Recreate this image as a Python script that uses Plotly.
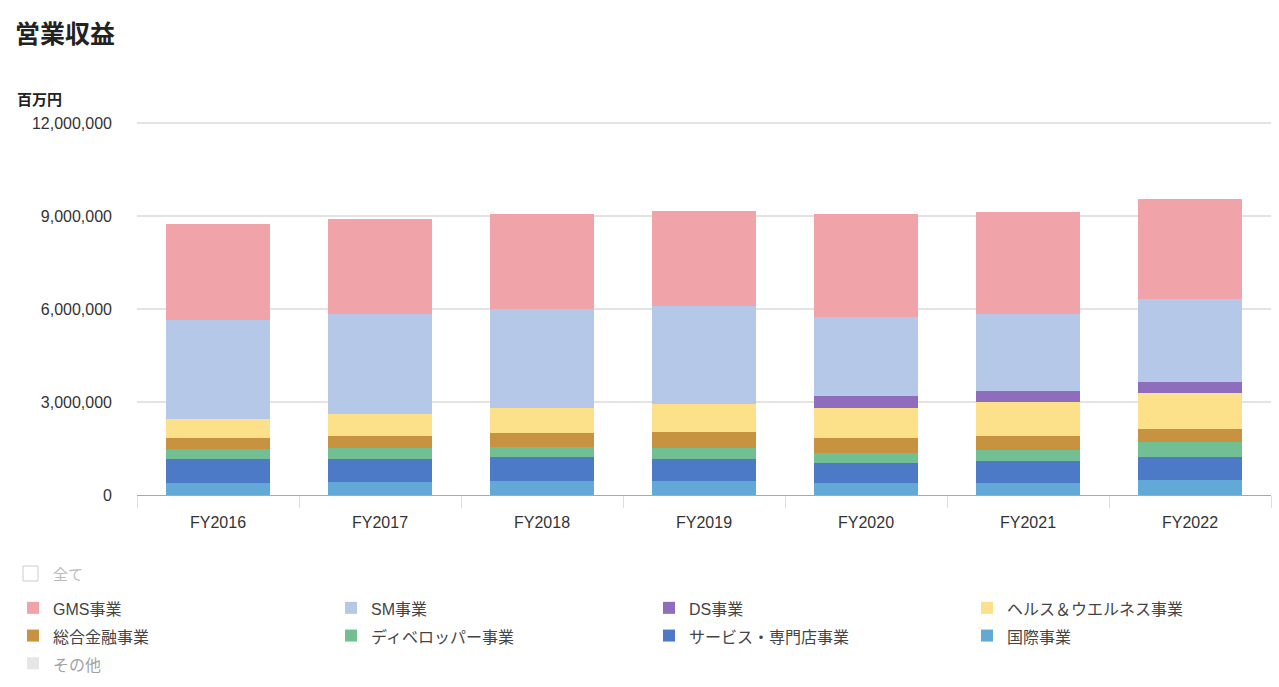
import plotly.graph_objects as go

categories = ["FY2016", "FY2017", "FY2018", "FY2019", "FY2020", "FY2021", "FY2022"]

# values in million yen
gms = [3080000, 3050000, 3060000, 3060000, 3300000, 3300000, 3230000]
sm = [3210000, 3230000, 3200000, 3180000, 2550000, 2480000, 2670000]
ds = [None, None, None, None, 400000, 360000, 340000]
health = [590000, 700000, 790000, 890000, 970000, 1080000, 1160000]
finance = [370000, 400000, 470000, 530000, 480000, 450000, 440000]
developer = [320000, 360000, 320000, 360000, 310000, 360000, 460000]
service = [780000, 730000, 770000, 700000, 640000, 700000, 760000]
international = [380000, 420000, 450000, 450000, 400000, 400000, 480000]
other = [None] * 7

y_ticks = [0, 3000000, 6000000, 9000000, 12000000]

# (name, values, color, legend rank) -- stacked bottom to top
series = [
    ("国際事業", international, "#63A9D8", 8),
    ("サービス・専門店事業", service, "#4D7AC6", 7),
    ("ディベロッパー事業", developer, "#72BF94", 6),
    ("総合金融事業", finance, "#C79340", 5),
    ("ヘルス＆ウエルネス事業", health, "#FDE08A", 4),
    ("DS事業", ds, "#8E6DBC", 3),
    ("SM事業", sm, "#B5C8E7", 2),
    ("GMS事業", gms, "#F0A3A8", 1),
]

FONT = "Liberation Sans, Noto Sans CJK JP, sans-serif"

def lg(name):
    return '<span style="font-size:16px">' + name + '</span>'

fig = go.Figure()
for name, vals, color, rank in series:
    fig.add_trace(go.Bar(
        x=categories, y=vals, name=lg(name), marker=dict(color=color, line=dict(width=0)),
        legendrank=rank, hovertemplate=name + ": %{y:,d}<extra></extra>",
    ))
fig.add_trace(go.Bar(
    x=categories, y=other, name=lg("その他"), marker=dict(color="#CFCFCF", line=dict(width=0)),
    legendrank=9, visible="legendonly",
))

W, H = 1279, 687
ml, mr, mb = 137, 8, 192
y0_px, ytop_px = 495, 123          # pixel rows of 0 and 12,000,000
mt = 114
pw = W - ml - mr
ph = H - mt - mb
ymax = 12000000 * (y0_px - mt) / (y0_px - ytop_px)

def px_x(x):
    return (x - ml) / pw

def px_y(y):
    return (H - mb - y) / ph

fig.update_layout(
    width=W, height=H,
    margin=dict(l=ml, r=mr, t=mt, b=mb, autoexpand=False),
    barmode="stack",
    bargap=0.36,
    plot_bgcolor="white",
    paper_bgcolor="white",
    font=dict(family=FONT, color="#333333", size=15),
    title=dict(
        text="<b>営業収益</b>", x=15 / W, xanchor="left", y=1 - 34 / H, yanchor="middle",
        xref="container", yref="container",
        font=dict(size=25, color="#222222", family=FONT),
    ),
    showlegend=True,
    legend=dict(
        orientation="h",
        x=px_x(13), xanchor="left",
        y=px_y(589), yanchor="top",
        entrywidth=273, entrywidthmode="pixels",
        font=dict(size=19, color="#444444", family=FONT),
        traceorder="normal",
        bgcolor="rgba(0,0,0,0)",
    ),
    xaxis=dict(
        showline=True, linecolor="#AAAAAA", linewidth=1,
        ticks="outside", tickson="boundaries", ticklen=12, tickcolor="#DDDDDD",
        showgrid=False,
        tickfont=dict(size=16, color="#333333"),
        ticklabelstandoff=13,
    ),
    yaxis=dict(
        range=[0, ymax],
        tickvals=y_ticks,
        tickformat=",d",
        showgrid=True, gridcolor="#E3E3E3", gridwidth=1.5,
        zeroline=False, showline=False,
        tickfont=dict(size=16, color="#333333"),
        ticklabelstandoff=24,
    ),
    annotations=[
        dict(text="<b>百万円</b>", x=px_x(15), y=px_y(100), xref="paper", yref="paper",
             xanchor="left", yanchor="middle", showarrow=False,
             font=dict(size=15, color="#222222", family=FONT)),
        dict(text="全て", x=px_x(51), y=px_y(574), xref="paper", yref="paper",
             xanchor="left", yanchor="middle", showarrow=False,
             font=dict(size=15, color="#BBBBBB", family=FONT)),
    ],
    shapes=[
        dict(type="rect", xref="paper", yref="paper",
             x0=px_x(23), x1=px_x(38), y0=px_y(566), y1=px_y(581),
             line=dict(color="#CCCCCC", width=1), fillcolor="white"),
    ],
)

fig.write_html("out.html")
